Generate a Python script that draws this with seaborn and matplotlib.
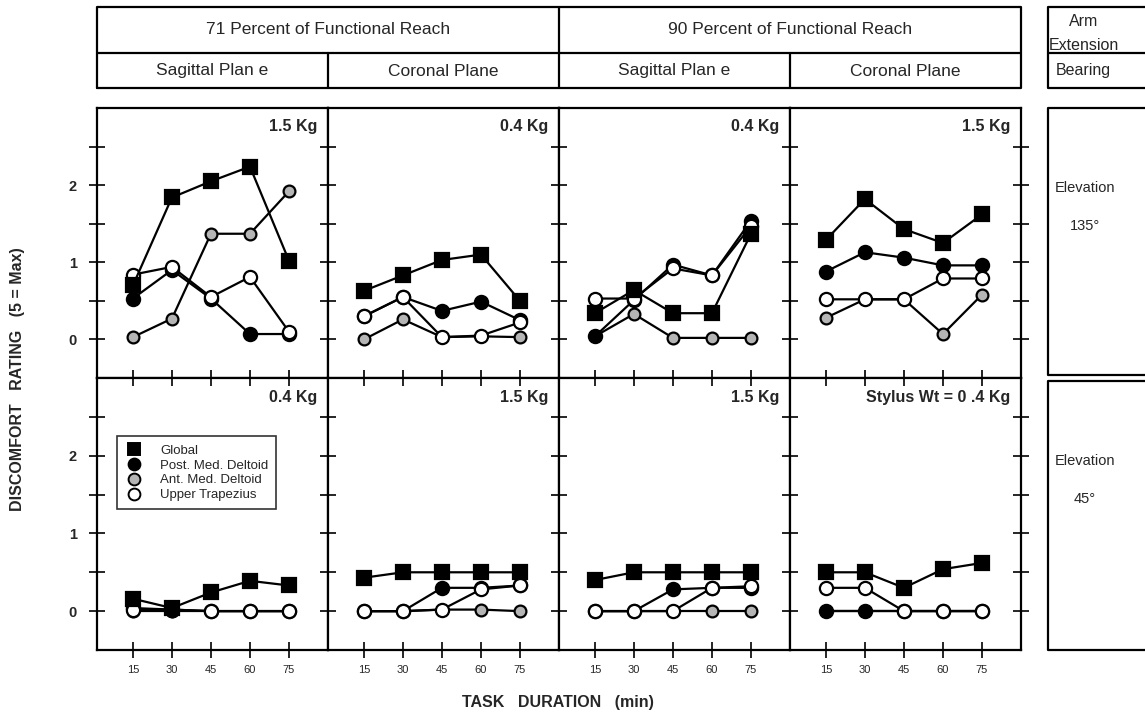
import numpy as np
import pandas as pd
import matplotlib
matplotlib.use("Agg")
import matplotlib.pyplot as plt
import seaborn as sns
from matplotlib.lines import Line2D

# ==========================================
# Data
# ==========================================
durations = [15, 30, 45, 60, 75]
muscles = ["Global", "Post. Med. Deltoid", "Ant. Med. Deltoid", "Upper Trapezius"]

reach_labels = ["71 Percent of Functional Reach", "90 Percent of Functional Reach"]
plane_labels = ["Sagittal Plan e", "Coronal Plane", "Sagittal Plan e", "Coronal Plane"]
elevation_labels = ["135°", "45°"]

# upper row: elevation 135
p1_global = [0.70, 1.84, 2.05, 2.24, 1.02]
p1_post = [0.53, 0.90, 0.53, 0.07, 0.07]
p1_ant = [0.03, 0.27, 1.37, 1.37, 1.92]
p1_trap = [0.84, 0.94, 0.55, 0.81, 0.10]

p2_global = [0.63, 0.83, 1.03, 1.10, 0.50]
p2_post = [0.30, 0.55, 0.37, 0.49, 0.25]
p2_ant = [0.00, 0.26, 0.03, 0.04, 0.03]
p2_trap = [0.30, 0.55, 0.03, 0.05, 0.22]

p3_global = [0.34, 0.64, 0.34, 0.34, 1.37]
p3_post = [0.04, 0.51, 0.97, 0.83, 1.54]
p3_ant = [0.04, 0.33, 0.02, 0.02, 0.02]
p3_trap = [0.53, 0.53, 0.92, 0.83, 1.47]

p4_global = [1.29, 1.82, 1.43, 1.25, 1.62]
p4_post = [0.88, 1.13, 1.06, 0.96, 0.96]
p4_ant = [0.28, 0.52, 0.52, 0.07, 0.58]
p4_trap = [0.52, 0.52, 0.52, 0.79, 0.79]

# lower row: elevation 45
p5_global = [0.16, 0.04, 0.24, 0.39, 0.33]
p5_post = [0.04, 0.02, 0.00, 0.00, 0.00]
p5_ant = [0.00, 0.00, 0.00, 0.00, 0.00]
p5_trap = [0.02, 0.02, 0.00, 0.00, 0.00]

p6_global = [0.43, 0.50, 0.50, 0.50, 0.50]
p6_post = [0.00, 0.00, 0.30, 0.30, 0.33]
p6_ant = [0.00, 0.00, 0.02, 0.02, 0.00]
p6_trap = [0.00, 0.00, 0.02, 0.28, 0.33]

p7_global = [0.40, 0.50, 0.50, 0.50, 0.50]
p7_post = [0.00, 0.00, 0.28, 0.30, 0.30]
p7_ant = [0.00, 0.00, 0.00, 0.00, 0.00]
p7_trap = [0.00, 0.00, 0.00, 0.30, 0.32]

p8_global = [0.50, 0.50, 0.30, 0.54, 0.62]
p8_post = [0.00, 0.00, 0.00, 0.00, 0.00]
p8_ant = [0.00, 0.00, 0.00, 0.00, 0.00]
p8_trap = [0.30, 0.30, 0.00, 0.00, 0.00]

weights = ["1.5 Kg", "0.4 Kg", "0.4 Kg", "1.5 Kg",
           "0.4 Kg", "1.5 Kg", "1.5 Kg", "Stylus Wt = 0 .4 Kg"]

panels = [
    (p1_global, p1_post, p1_ant, p1_trap),
    (p2_global, p2_post, p2_ant, p2_trap),
    (p3_global, p3_post, p3_ant, p3_trap),
    (p4_global, p4_post, p4_ant, p4_trap),
    (p5_global, p5_post, p5_ant, p5_trap),
    (p6_global, p6_post, p6_ant, p6_trap),
    (p7_global, p7_post, p7_ant, p7_trap),
    (p8_global, p8_post, p8_ant, p8_trap),
]

rows = []
for k, series in enumerate(panels):
    for m, vals in zip(muscles, series):
        for d, v in zip(durations, vals):
            rows.append({"panel": k, "muscle": m, "duration": d, "rating": v})
df = pd.DataFrame(rows)

# ==========================================
# Style
# ==========================================
sns.set_theme(style="white")
plt.rcParams['font.family'] = ['Liberation Sans', 'DejaVu Sans']
NARROW = ['Liberation Sans Narrow', 'Liberation Sans', 'DejaVu Sans']

marker_style = {
    "Global": dict(marker="s", markerfacecolor="black", markersize=10),
    "Post. Med. Deltoid": dict(marker="o", markerfacecolor="black", markersize=9.5),
    "Ant. Med. Deltoid": dict(marker="o", markerfacecolor="#b5b5b5", markersize=8.5),
    "Upper Trapezius": dict(marker="o", markerfacecolor="white", markersize=9.5),
}
draw_order = ["Ant. Med. Deltoid", "Post. Med. Deltoid", "Upper Trapezius", "Global"]

W, H = 1145, 712
fig = plt.figure(figsize=(W / 100, H / 100), dpi=100)

def fx(px):
    return px / W

def fy(py):
    return 1 - py / H

col_left = [97, 328, 559, 790]
col_w = 231
row_top = [108, 378]
row_h = [270, 272]

for k in range(8):
    r, c = divmod(k, 4)
    ax = fig.add_axes([fx(col_left[c]), fy(row_top[r] + row_h[r]), col_w / W, row_h[r] / H])
    sub = df[df["panel"] == k]
    for m in draw_order:
        sns.lineplot(data=sub[sub["muscle"] == m], x="duration", y="rating", ax=ax,
                     color="black", linewidth=1.6, errorbar=None, sort=False,
                     markeredgecolor="black", markeredgewidth=1.6,
                     **marker_style[m])
    ax.set_xlim(1.2, 90)
    ax.set_ylim(-0.5, 3.0)
    ax.set_xlabel("")
    ax.set_ylabel("")
    ax.set_xticks(durations)
    ax.set_yticks([0, 0.5, 1, 1.5, 2, 2.5])
    ax.set_yticklabels(["0", "", "1", "", "2", ""])
    for s in ax.spines.values():
        s.set_linewidth(1.6)
        s.set_color("black")
    ax.tick_params(axis="y", direction="inout", length=11, width=1.4,
                   left=True, right=True, labelleft=(c == 0), labelsize=10.5, pad=9)
    if r == 0:
        ax.tick_params(axis="x", direction="inout", length=11, width=1.4,
                       bottom=True, top=False, labelbottom=False)
    else:
        ax.tick_params(axis="x", direction="inout", length=11, width=1.4,
                       bottom=True, top=True, labelbottom=True, labelsize=8, pad=5)
    for lab in ax.get_yticklabels():
        lab.set_fontweight("bold")
    ax.text(0.955, 0.93, weights[k], transform=ax.transAxes, ha="right", va="center",
            fontsize=11.5, fontweight="bold")

    if k == 4:
        handles = [Line2D([], [], linestyle="none", color="black", markeredgecolor="black",
                          markeredgewidth=1.4, **{**marker_style[m], "markersize": 8.5})
                   for m in muscles]
        leg = ax.legend(handles, muscles, loc="upper left", bbox_to_anchor=(0.085, 0.785),
                        frameon=True, fancybox=False, fontsize=9.5, handletextpad=1.3,
                        borderpad=0.6, labelspacing=0.2, handlelength=1.4,
                        borderaxespad=0)
        leg.get_frame().set_edgecolor("black")
        leg.get_frame().set_linewidth(1.2)

# ==========================================
# Header table
# ==========================================
hdr = fig.add_axes([fx(97), fy(88), (1021 - 97) / W, 81 / H])
hdr.set_xlim(0, 4)
hdr.set_ylim(0, 81)
hdr.axis("off")
lw = 1.6
hdr.plot([0, 4, 4, 0, 0], [0, 0, 81, 81, 0], color="black", lw=lw, clip_on=False)
hdr.plot([0, 4], [35, 35], color="black", lw=lw)
hdr.plot([2, 2], [0, 81], color="black", lw=lw)
hdr.plot([1, 1], [0, 35], color="black", lw=lw)
hdr.plot([3, 3], [0, 35], color="black", lw=lw)
for i, lab in enumerate(reach_labels):
    hdr.text(1 + 2 * i, 58, lab, ha="center", va="center", fontsize=12.5, family=NARROW)
for i, lab in enumerate(plane_labels):
    hdr.text(0.5 + i, 17, lab, ha="center", va="center", fontsize=12.5, family=NARROW)

side_hdr = fig.add_axes([fx(1048), fy(88), (1150 - 1048) / W, 81 / H])
side_hdr.set_xlim(0, 1)
side_hdr.set_ylim(0, 81)
side_hdr.axis("off")
side_hdr.plot([1, 0, 0, 1], [0, 0, 81, 81], color="black", lw=lw, clip_on=False)
side_hdr.plot([0, 1], [35, 35], color="black", lw=lw)
side_hdr.text(0.35, 67, "Arm", ha="center", va="center", fontsize=11.5, family=NARROW)
side_hdr.text(0.35, 42, "Extension", ha="center", va="center", fontsize=11.5, family=NARROW)
side_hdr.text(0.35, 17, "Bearing", ha="center", va="center", fontsize=11.5, family=NARROW)

# side boxes (elevation)
side_boxes = [(108, 375), (381, 650)]
for (top, bot), elev in zip(side_boxes, elevation_labels):
    sb = fig.add_axes([fx(1048), fy(bot), (1150 - 1048) / W, (bot - top) / H])
    sb.set_xlim(0, 1)
    sb.set_ylim(0, 1)
    sb.axis("off")
    sb.plot([1, 0, 0, 1], [0, 0, 1, 1], color="black", lw=lw, clip_on=False)
    sb.text(0.36, 1 - 80 / (bot - top), "Elevation", ha="center", va="center", fontsize=10.5)
    sb.text(0.36, 1 - 118 / (bot - top), elev, ha="center", va="center", fontsize=10.5)

# axis titles
fig.text(fx(18), fy(379), "DISCOMFORT   RATING   (5 = Max)", rotation=90,
         ha="center", va="center", fontsize=11.5, fontweight="bold")
fig.text(fx(558), fy(703), "TASK   DURATION   (min)", ha="center", va="center",
         fontsize=11.5, fontweight="bold")

fig.savefig("out.png", dpi=100)
